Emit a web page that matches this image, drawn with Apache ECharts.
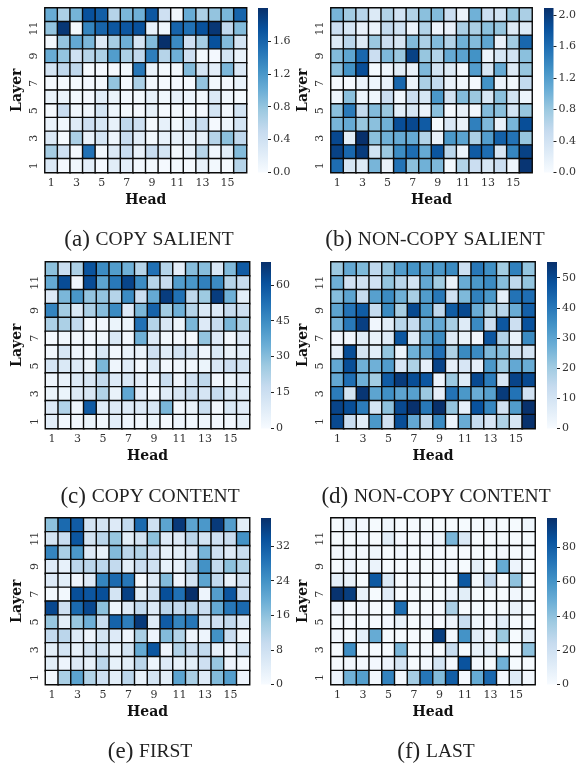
<!DOCTYPE html>
<html><head><meta charset="utf-8">
<style>html,body{margin:0;padding:0;background:#fff}#c{width:579px;height:767px}</style>
<script src="https://cdn.jsdelivr.net/npm/echarts@6/dist/echarts.min.js"></script>
</head><body><div id="c"></div>
<script>
const heads = ['1','2','3','4','5','6','7','8','9','10','11','12','13','14','15','16'];
const layers = ['1','2','3','4','5','6','7','8','9','10','11','12'];
// every matrix lists layer 12 first, layer 1 last
const copySalient = [
[1.02,.66,.95,1.75,1.65,.6,.92,.98,1.7,.42,.08,1.02,.66,.8,.92,1.6],
[.8,1.95,.05,1.35,1.6,1.7,1.7,1.75,.16,.08,1.6,1.5,1.75,1.95,.54,.88],
[.05,.8,1.05,.92,.28,.7,.98,.35,.88,2.0,1.3,.42,.7,1.75,.88,.35],
[1.02,.8,.42,.6,.66,1.15,.66,.54,1.4,.6,.98,.42,.05,.04,.35,.13],
[.35,.54,.54,.03,.04,.04,.05,1.45,.13,.05,.05,.88,.35,.2,.92,.28],
[.03,.03,.03,.04,.06,.8,.03,.66,.05,.03,.03,.03,.8,.05,.04,.13],
[.13,.13,.05,.04,.22,.13,.06,.05,.16,.07,.16,.1,.05,.28,.07,.02],
[.03,.47,.08,.08,.35,.1,.05,.03,.16,.03,.05,.03,.04,.35,.06,.35],
[.13,.07,.25,.42,.32,.16,.54,.42,.03,.16,.05,.28,.47,.03,.1,.35],
[.28,.03,.66,.16,.35,.1,.47,.22,.05,.16,.16,.16,.16,.6,.84,.54],
[.7,.42,.03,1.5,.08,.28,.47,.16,.47,.35,.05,.16,.6,.07,.22,.88],
[.28,.04,.08,.2,.04,.22,.2,.06,.05,.03,.05,.03,.16,.05,.03,.6]];
const nonCopySalient = [
[.98,.75,.62,.28,.65,.4,.65,.88,.92,.47,.13,1.02,.47,.4,.82,.7],
[.47,.35,.16,.13,.54,.4,.13,.65,.13,.16,.7,.7,.88,.82,.28,.28],
[.28,.6,.28,.8,.47,.35,.92,.7,.92,.65,1.02,.92,1.12,.16,.75,1.65],
[.92,1.12,1.65,.47,.95,.8,1.95,.82,.65,1.08,1.15,1.3,.13,.35,.4,.88],
[.88,1.3,1.85,.04,.1,.22,.16,.95,.4,.28,.08,1.2,.35,1.08,.28,.82],
[.03,.03,.13,.1,.16,1.65,.13,.7,.54,.16,.08,.03,1.3,.13,.07,.54],
[.1,.88,.1,.08,.47,.08,.47,.35,1.25,.4,.92,.8,.35,.88,.4,.1],
[.88,1.5,.54,.92,.8,.22,.35,.13,.88,.03,.16,.05,.92,.88,.4,.82],
[.98,1.08,.82,.88,1.02,1.85,1.9,1.75,.02,.32,.16,1.45,.95,.16,.98,1.85],
[1.9,.22,2.09,.88,1.02,1.08,1.08,.65,.16,1.25,1.15,.7,1.2,1.7,1.55,.82],
[1.95,1.65,2.0,.4,.8,1.35,1.6,1.08,1.8,.6,.13,1.75,1.6,.35,1.4,1.95],
[1.6,.35,.28,.98,.16,1.55,.88,1.02,.95,.05,.65,.47,.35,.47,.1,2.05]];
const copyContent = [
[29,16,23,60,45,40,34,21,52,21,7,30,30,11,31,58],
[36,62,3,62,38,50,64,45,21,17,40,42,48,45,21,17],
[9,32,42,28,28,21,45,16,36,66,52,19,26,66,34,7],
[47,25,10,23,30,45,9,32,56,25,34,21,10,9,17,15],
[23,23,18,2,2,4,4,52,21,11,4,32,9,17,32,23],
[1,2,2,2,2,10,2,34,9,2,2,1,28,9,2,9],
[2,11,3,2,11,2,5,5,15,8,13,11,3,10,5,7],
[12,10,9,5,32,3,8,2,9,2,3,2,4,11,15,13],
[3,5,9,11,18,9,11,7,3,16,3,13,19,2,4,7],
[4,4,9,11,22,5,37,7,2,8,11,16,12,17,11,9],
[9,22,3,58,8,9,9,9,11,32,2,5,16,2,10,8],
[7,2,2,4,2,7,3,2,4,1,3,2,3,2,2,6]];
const nonCopyContent = [
[21,29,25,15,22,32,34,31,33,36,12,40,35,20,38,22],
[27,11,11,11,22,16,10,29,20,4,28,33,36,24,15,22],
[24,30,14,31,36,27,19,32,40,11,25,38,33,5,41,42],
[30,41,46,14,36,19,50,33,15,46,50,28,19,16,28,45],
[26,40,52,2,6,16,14,26,29,19,7,36,12,47,12,48],
[2,2,6,4,7,47,7,29,36,7,4,2,47,17,4,36],
[5,49,10,6,22,3,27,30,42,18,36,36,25,24,10,10],
[29,49,27,27,32,9,18,5,51,5,9,5,33,21,29,28],
[29,42,27,20,46,53,49,47,3,21,7,50,39,9,51,50],
[39,10,54,30,35,30,31,21,5,41,33,28,31,53,41,11],
[51,49,39,10,23,50,55,40,55,22,5,48,37,11,32,55],
[50,13,6,33,11,49,29,15,36,3,28,14,9,18,9,55]];
const firstHead = [
[16,30,32,7,7,5,10,30,8,21,37,21,23,37,22,4],
[7,9,33,7,11,15,4,7,16,5,5,11,7,8,9,24],
[26,13,23,5,3,17,11,12,8,3,4,5,18,8,5,9],
[5,3,11,11,11,10,4,9,8,3,3,11,24,10,16,12],
[5,4,2,5,26,30,28,1,5,17,2,7,21,10,3,7],
[1,1,34,33,34,7,36,4,8,34,29,38.5,2,22,33,9],
[35,8,30,35,16,2,5,10,5,11,10,11,9,20,28,30],
[15,4,15,19,9,31,27,37,5,32,26,28,7,8,10,5],
[10,11,5,2,7,5,2,13,2,17,12,2,2,24,9,1],
[4,7,3,7,7,3,7,20,33,2,12,9,10,3,2,7],
[4,2,5,3,11,3,4,11,2,5,3,4,8,15,2,1],
[1,13,21,12,8,4,11,3,7,4,21,13,5,17,22,2]];
const lastHead = [
[1,6,2,1,4,1,1,1,1,1,1,1,3,1,1,4],
[1,1,2,1,10,2,1,2,4,45,14,1,1,1,1,1],
[2,3,2,4,1,3,1,1,1,1,1,1,1,2,1,1],
[1,5,1,6,1,1,1,1,2,2,1,9,1,50,5,1],
[9,7,1,82,14,1,3,1,1,1,82,3,25,1,40,1],
[96,92,7,1,11,1,1,1,1,5,10,1,1,1,3,1],
[5,1,2,1,1,74,1,1,1,32,1,1,1,1,7,1],
[1,1,1,1,2,7,1,3,1,5,23,4,2,11,1,1],
[3,1,9,50,1,1,1,1,92,2,60,11,5,37,1,9],
[1,62,1,1,1,45,1,3,1,23,1,7,9,1,1,40],
[1,3,2,2,5,16,1,2,17,2,84,2,1,47,1,1],
[5,47,55,3,66,3,34,71,43,80,2,50,76,2,12,3]];
const captionTags = ['(a) ','(b) ','(c) ','(d) ','(e) ','(f) '];
const captionNames = ['COPY SALIENT','NON-COPY SALIENT','COPY CONTENT','NON-COPY CONTENT','FIRST','LAST'];
const scaleTops = [2.0,2.09,69.5,55.2,38.5,97];
const scaleTicks = [[0,.4,.8,1.2,1.6],[0,.4,.8,1.2,1.6,2],[0,15,30,45,60],[0,10,20,30,40,50],[0,8,16,24,32],[0,20,40,60,80]];
const tickDigits = [1,1,0,0,0,0];
const matrices = [copySalient,nonCopySalient,copyContent,nonCopyContent,firstHead,lastHead];

const blues = ['#f7fbff','#deebf7','#c6dbef','#9ecae1','#6baed6','#4292c6','#2171b5','#08519c','#08306b'];
const serif = 'DejaVu Serif';
const boxes = [
 [45,8,201.5,164.5,258,149,240],
 [331,8,201,164.5,544,435,240],
 [45.5,262,204,166.5,261,150,497],
 [331,262,204,166.5,547,436,497],
 [45.5,518,204,166.5,261,150,752],
 [331,518,204,166.5,547,436,752]];
const barFill = () => new echarts.graphic.LinearGradient(0,1,0,0,
  blues.map((color,k)=>({offset:k/(blues.length-1),color})));
const grid=[],xAxis=[],yAxis=[],series=[],visualMap=[],title=[];
matrices.forEach((m,i)=>{
  const [l,t,w,h,cb,cx,cy]=boxes[i];
  const g=grid.length;
  grid.push({left:l,top:t,width:w,height:h});
  xAxis.push({type:'category',gridIndex:g,data:heads,name:'Head',nameLocation:'middle',nameGap:21,
    nameTextStyle:{fontFamily:serif,fontWeight:'bold',fontSize:14,color:'#111'},
    axisLine:{show:false},splitLine:{show:false},
    axisTick:{alignWithLabel:true,interval:0,length:3,lineStyle:{color:'#222',width:1}},
    axisLabel:{interval:1,fontFamily:serif,fontSize:11,color:'#333',margin:5}});
  yAxis.push({type:'category',gridIndex:g,data:layers,name:'Layer',nameLocation:'middle',nameGap:21,
    nameTextStyle:{fontFamily:serif,fontWeight:'bold',fontSize:14,color:'#111'},
    axisLine:{show:false},splitLine:{show:false},
    axisTick:{alignWithLabel:true,interval:0,length:3,lineStyle:{color:'#222',width:1}},
    axisLabel:{interval:1,rotate:90,fontFamily:serif,fontSize:11,color:'#333',margin:5}});
  const data=[];
  m.forEach((row,r)=>row.forEach((v,c)=>data.push([c,11-r,v])));
  series.push({type:'heatmap',xAxisIndex:g,yAxisIndex:g,data,silent:true,
    itemStyle:{borderColor:'#0a0a0a',borderWidth:1.4}});
  visualMap.push({type:'continuous',show:false,seriesIndex:i,min:0,max:scaleTops[i],inRange:{color:blues}});
  grid.push({left:cb,top:t,width:10,height:h,show:true,borderWidth:0,backgroundColor:barFill()});
  xAxis.push({type:'category',gridIndex:g+1,show:false,data:['']});
  yAxis.push({type:'value',gridIndex:g+1,position:'right',min:0,max:scaleTops[i],
    axisLine:{show:false},splitLine:{show:false},
    axisTick:{show:true,length:3,customValues:scaleTicks[i],lineStyle:{color:'#222',width:1}},
    axisLabel:{customValues:scaleTicks[i],fontFamily:serif,fontSize:11,color:'#333',margin:5,
      formatter:v=>Number(v).toFixed(tickDigits[i])}});
  title.push({left:cx,top:cy-12,textAlign:'center',padding:0,text:'{t|'+captionTags[i]+'}{n|'+captionNames[i]+'}',
    textStyle:{fontWeight:'normal',rich:{
      t:{fontFamily:'Liberation Serif',fontSize:23,fontWeight:'normal',color:'#222'},
      n:{fontFamily:'Liberation Serif',fontSize:19.5,fontWeight:'normal',color:'#222'}}}});
});
const chart=echarts.init(document.getElementById('c'),null,{renderer:'canvas'});
chart.setOption({animation:false,backgroundColor:'#fff',grid,xAxis,yAxis,series,visualMap,title});
</script></body></html>
